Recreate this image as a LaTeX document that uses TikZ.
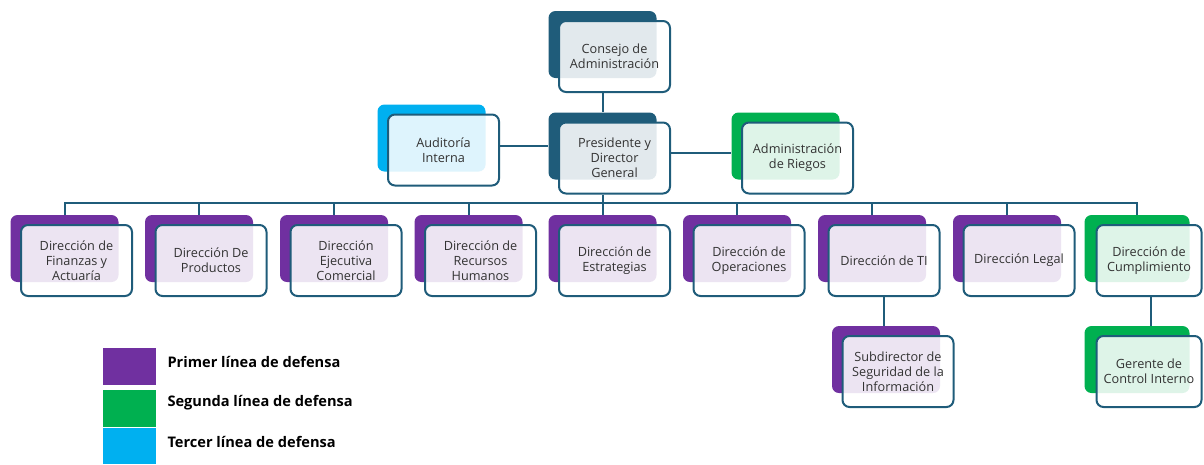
\documentclass[tikz,border=0pt]{standalone}
\usepackage{fontspec}
\setmainfont{Open Sans}
\usetikzlibrary{calc}
\definecolor{teal1}{HTML}{1F5C7A}
\definecolor{purp}{HTML}{7030A0}
\definecolor{grn}{HTML}{00B050}
\definecolor{lblue}{HTML}{00B0F0}
\definecolor{txt}{HTML}{333333}
\tikzset{
  frontbox/.style={draw=teal1, line width=2pt, rounded corners=7pt, fill=white, fill opacity=0.87, text opacity=1,
    minimum width=111pt, minimum height=71pt, inner sep=2pt, align=center, text=txt,
    font=\fontsize{12.7}{15.2}\selectfont},
  backbox/.style={rounded corners=7pt, minimum width=108pt, minimum height=67pt, inner sep=0pt},
  conn/.style={draw=teal1, line width=2pt},
  legsq/.style={minimum width=53pt, minimum height=37pt, inner sep=0pt, anchor=north west},
  legtxt/.style={anchor=west, font=\bfseries\fontsize{14.6}{17}\selectfont, text=black}
}
\newcommand\orgbox[5][]{% opts, name, color, center, text
  \node[backbox, fill=#3, #1] (#2b) at ($(#4)+(-12,-12)$) {};
  \node[frontbox, #1] (#2) at (#4) {#5};
}
\begin{document}
\begin{tikzpicture}[x=1pt,y=-1pt]
\useasboundingbox (0,0) rectangle (1204,464);
\clip (0,0) rectangle (1204,464);
\coordinate (busy) at (0,203);
% boxes
\orgbox{cons}{teal1}{614.5,56.5}{Consejo de\\Administración}
\orgbox{pres}{teal1}{614.5,158}{Presidente y\\Director\\General}
\orgbox{aud}{lblue}{443.5,150}{Auditoría\\Interna}
\orgbox{adm}{grn}{797.5,158}{Administración\\de Riegos}
\orgbox{fin}{purp}{76.5,260.5}{Dirección de\\Finanzas y\\Actuaría}
\orgbox{pro}{purp}{211,260.5}{Dirección De\\Productos}
\orgbox{com}{purp}{346,260.5}{Dirección\\Ejecutiva\\Comercial}
\orgbox{rh}{purp}{480.5,260.5}{Dirección de\\Recursos\\Humanos}
\orgbox{est}{purp}{614.5,260.5}{Dirección de\\Estrategias}
\orgbox{ope}{purp}{749,260.5}{Dirección de\\Operaciones}
\orgbox{ti}{purp}{884,260.5}{Dirección de TI}
\orgbox{leg}{purp}{1019,260.5}{Dirección Legal}
\orgbox[minimum width=105pt]{cum}{grn}{1149,260.5}{Dirección de\\Cumplimiento}
\orgbox{sub}{purp}{898,371.5}{Subdirector de\\Seguridad de la\\Información}
\orgbox[minimum width=105pt]{ger}{grn}{1149,371.5}{Gerente de\\Control Interno}
% connectors
\draw[conn] (cons.south -| consb.south) -- (presb.north);
\draw[conn] (aud.east |- presb.west) -- (presb.west);
\draw[conn] ($(pres.east)+(0,-5)$) -- ($(pres.east -| admb.west)+(0,-5)$);
\draw[conn] (pres.south -| presb.south) -- (presb.south |- busy);
\draw[conn] (finb.north) -- (finb.north |- busy) -- (cumb.north |- busy) -- (cumb.north);
\foreach \n in {pro,com,rh,est,ope,ti,leg}{
  \draw[conn] (\n b.north |- busy) -- (\n b.north);
}
\draw[conn] (ti.south) -- (ti.south |- subb.north);
\draw[conn] ($(cum.south)+(2,0)$) -- ($(cum.south |- gerb.north)+(2,0)$);
% legend
\node[legsq, fill=purp] (l1) at (103,348) {};
\node[legsq, fill=grn] (l2) at (103,390) {};
\node[legsq, fill=lblue, minimum height=36pt] (l3) at (103,428) {};
\node[legtxt] (t1) at (164,362) {Primer línea de defensa};
\node[legtxt] (t2) at (164,403) {Segunda línea de defensa};
\node[legtxt] (t3) at (164,442) {Tercer línea de defensa};
\end{tikzpicture}
\end{document}
